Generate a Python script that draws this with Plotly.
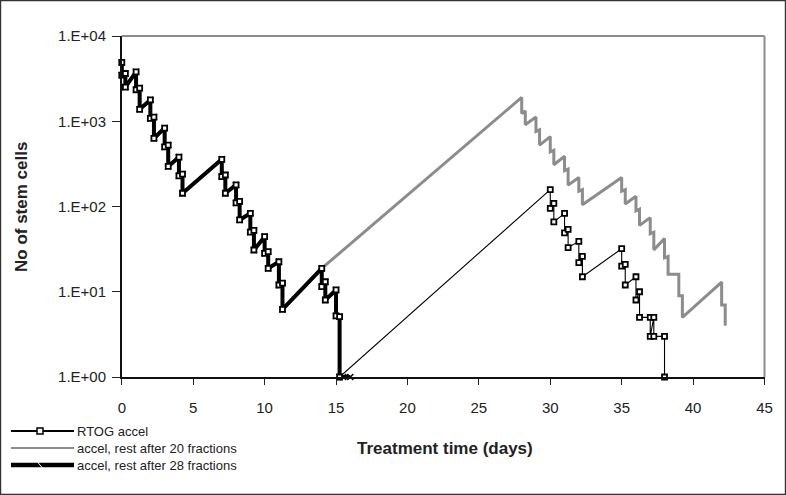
import plotly.graph_objects as go

# ---------------- data ----------------
# common part of all three schedules: days 0-11 + weekend to day 14
early_t = [0, 0, 0.25, 0.25, 1, 1, 1.25, 1.25, 2, 2, 2.25, 2.25,
           3, 3, 3.25, 3.25, 4, 4, 4.25, 4.25,
           7, 7, 7.25, 7.25, 8, 8, 8.25, 8.25, 9, 9, 9.25, 9.25,
           10, 10, 10.25, 10.25, 11, 11, 11.25, 11.25, 14]
early_n = [4900, 3470, 3630, 2510, 3800, 2340, 2450, 1380, 1780, 1080, 1120, 631,
           832, 500, 525, 295, 380, 229, 240, 143,
           358, 224, 234, 143, 179, 110, 115, 69.5, 83.2, 50.1, 52.5, 30.9,
           44.3, 28.2, 29.5, 18.8, 22.5, 12.0, 12.6, 6.2, 18.8]

# days 14-15 fractions (RTOG accel and rest after 28 fractions)
tail_t = [14, 14.25, 14.25, 15, 15, 15.25, 15.25]
tail_n = [11.5, 13.1, 8.0, 10.5, 5.2, 5.1, 1]

# RTOG accel after the break
rtog_t2 = [30, 30, 30.25, 30.25, 31, 31, 31.25, 31.25, 32, 32, 32.25, 32.25,
           35, 35, 35.25, 35.25, 36, 36, 36.25, 36.25, 37, 37, 37.25, 37.25, 38, 38]
rtog_n2 = [158, 95, 109, 66, 83, 49, 54, 33, 39, 22, 26, 15,
           32, 20, 21, 12, 15, 8, 10, 5, 5, 3, 5, 3, 3, 1]

# accel, rest after 28 fractions: end points
thick_t2 = [15.5, 16]
thick_n2 = [1, 1]

# accel, rest after 20 fractions: second course
gray_t2 = [28, 28, 28.25, 28.25, 29, 29, 29.25, 29.25, 30, 30, 30.25, 30.25,
           31, 31, 31.25, 31.25, 32, 32, 32.25, 32.25,
           35, 35, 35.25, 35.25, 36, 36, 36.25, 36.25, 37, 37, 37.25, 37.25,
           38, 38, 38.25, 38.25, 39, 39, 39.25, 39.25,
           42, 42, 42.25, 42.25]
gray_n2 = [1905, 1230, 1318, 912, 1122, 759, 794, 525, 661, 437, 457, 309,
           389, 263, 275, 178, 219, 151, 158, 105,
           219, 151, 158, 107, 132, 89, 93, 60, 74, 48, 50, 31,
           42, 25, 26, 16, 16, 9, 9, 5,
           13, 7, 7, 4]

series_names = ["RTOG accel", "accel, rest after 20 fractions", "accel, rest after 28 fractions"]
x_ticks = [0, 5, 10, 15, 20, 25, 30, 35, 40, 45]
y_ticks = [1, 10, 100, 1000, 10000]
y_ticktext = ["1.E+00", "1.E+01", "1.E+02", "1.E+03", "1.E+04"]

rtog_t = early_t + tail_t + rtog_t2
rtog_n = early_n + tail_n + rtog_n2
thick_t = early_t + tail_t + thick_t2
thick_n = early_n + tail_n + thick_n2
gray_t = early_t + gray_t2
gray_n = early_n + gray_n2

# ---------------- layout geometry (pixels) ----------------
W, H = 786, 495
PL, PR, PT, PB = 121.8, 764.5, 36, 377
GRAY = "#8c8c8c"
FONT = "Liberation Sans, Arial, sans-serif"


def px(x):
    return x / W


def py(y):
    return 1 - y / H


fig = go.Figure()
fig.add_trace(go.Scatter(x=gray_t, y=gray_n, mode="lines", name=series_names[1],
                         line=dict(color=GRAY, width=3), cliponaxis=False))
fig.add_trace(go.Scatter(x=thick_t, y=thick_n, mode="lines+markers", name=series_names[2],
                         line=dict(color="black", width=4),
                         marker=dict(symbol="x-thin-open", size=6, line=dict(color="black", width=1.5)),
                         cliponaxis=False))
fig.add_trace(go.Scatter(x=rtog_t, y=rtog_n, mode="lines+markers", name=series_names[0],
                         line=dict(color="black", width=1.1),
                         marker=dict(symbol="square", size=5, color="white",
                                     line=dict(color="black", width=1.8)),
                         cliponaxis=False))

shapes = []
# plot-area border (top and right, gray)
shapes.append(dict(type="line", xref="paper", yref="paper", x0=px(PL), x1=px(PR), y0=py(PT), y1=py(PT),
                   line=dict(color=GRAY, width=2)))
shapes.append(dict(type="line", xref="paper", yref="paper", x0=px(PR), x1=px(PR), y0=py(PT), y1=py(PB),
                   line=dict(color=GRAY, width=2)))
# outer frame
shapes.append(dict(type="rect", xref="paper", yref="paper", x0=px(0.6), x1=px(W - 0.6), y0=py(0.6), y1=py(H - 0.6),
                   line=dict(color="#333333", width=1.2)))

# custom legend
leg_rows = [431, 448, 465]
lx0, lx1, lmx, ltx = 11, 74, 40, 75
leg_styles = [("black", 2), (GRAY, 2), ("black", 4.5)]
annotations = []
for i, (name, (col, wid)) in enumerate(zip(series_names, leg_styles)):
    yy = leg_rows[i]
    shapes.append(dict(type="line", xref="paper", yref="paper", x0=px(lx0), x1=px(lx1), y0=py(yy), y1=py(yy),
                       line=dict(color=col, width=wid)))
    annotations.append(dict(xref="paper", yref="paper", x=px(ltx), y=py(yy), text=name, showarrow=False,
                            xanchor="left", yanchor="middle", font=dict(family=FONT, size=13, color="#222")))
# legend markers
yy = leg_rows[0]
shapes.append(dict(type="rect", xref="paper", yref="paper", x0=px(lmx - 3), x1=px(lmx + 3), y0=py(yy - 3), y1=py(yy + 3),
                   fillcolor="white", line=dict(color="black", width=1.5)))
yy = leg_rows[2]
shapes.append(dict(type="line", xref="paper", yref="paper", x0=px(lmx - 2.5), x1=px(lmx + 2.5), y0=py(yy - 3), y1=py(yy + 3),
                   line=dict(color="white", width=1)))

# axis titles
annotations.append(dict(xref="paper", yref="paper", x=px(445), y=py(448), text="<b>Treatment time (days)</b>",
                        showarrow=False, xanchor="center", yanchor="middle",
                        font=dict(family=FONT, size=17, color="#222")))
annotations.append(dict(xref="paper", yref="paper", x=px(21), y=py(207), text="<b>No of stem cells</b>",
                        showarrow=False, xanchor="center", yanchor="middle", textangle=-90,
                        font=dict(family=FONT, size=17, color="#222")))

fig.update_layout(
    width=W, height=H,
    margin=dict(l=0, r=0, t=0, b=0, pad=0),
    paper_bgcolor="white", plot_bgcolor="white",
    showlegend=False,
    font=dict(family=FONT, color="#222"),
    shapes=shapes, annotations=annotations,
    xaxis=dict(domain=[px(PL), px(PR)], range=[0, 45], tickvals=x_ticks, ticks="outside", ticklen=6,
               tickwidth=1.2, tickcolor="#222", showline=True, linecolor="#111", linewidth=1.5,
               showgrid=False, zeroline=False, automargin=False, tickfont=dict(size=15, family=FONT),
               ticklabelstandoff=10),
    yaxis=dict(domain=[py(PB), py(PT)], type="log", range=[0, 4], tickvals=y_ticks, ticktext=y_ticktext,
               ticks="outside", ticklen=8, tickwidth=1.2, tickcolor="#222", showline=True, linecolor="#111",
               linewidth=1.5, showgrid=False, zeroline=False, automargin=False,
               tickfont=dict(size=15, family=FONT), ticklabelstandoff=3),
)

fig.write_html("out.html", config={"displayModeBar": False},
               post_script="document.body.style.margin='0px';document.body.style.overflow='hidden';")
